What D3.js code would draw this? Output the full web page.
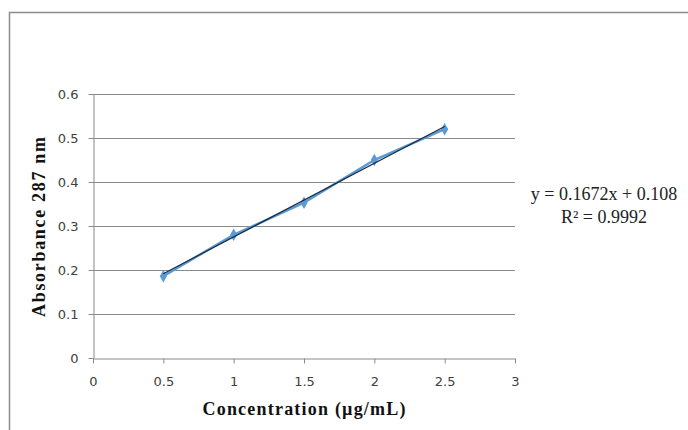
<!DOCTYPE html>
<html>
<head>
<meta charset="utf-8">
<script src="https://cdn.jsdelivr.net/npm/d3@7"></script>
<style>
  body { margin: 0; background: #fff; }
  svg { display: block; }
</style>
</head>
<body>
<div id="chart"></div>
<script>
// calibration data
const concentration = [0.5, 1, 1.5, 2, 2.5];
const absorbance = [0.186, 0.28, 0.353, 0.45, 0.52];
const xTicks = [0, 0.5, 1, 1.5, 2, 2.5, 3];
const yTicks = [0, 0.1, 0.2, 0.3, 0.4, 0.5, 0.6];
const slope = 0.1672;
const intercept = 0.108;
const equationLines = ["y = 0.1672x + 0.108", "R² = 0.9992"];

const width = 688, height = 430;
const margin = { top: 94, right: 173, bottom: 72, left: 93 };
const serif = "'Liberation Serif', 'Times New Roman', serif";

const svg = d3.select("#chart").append("svg")
  .attr("width", width)
  .attr("height", height);

// outer frame (only top and left edges show in the crop)
svg.append("path")
  .attr("d", `M9.5,${height}V12.5H${width}`)
  .attr("fill", "none")
  .attr("stroke", "#8c8c8c")
  .attr("stroke-width", 1.5);

const x = d3.scaleLinear().domain([0, 3]).range([margin.left, width - margin.right]);
const y = d3.scaleLinear().domain([0, 0.6]).range([height - margin.bottom, margin.top]);

// gridlines
svg.append("g")
  .selectAll("line")
  .data(yTicks.slice(1))
  .join("line")
  .attr("x1", x(0)).attr("x2", x(3))
  .attr("y1", d => Math.round(y(d)) + 0.5)
  .attr("y2", d => Math.round(y(d)) + 0.5)
  .attr("stroke", "#8a8a8a")
  .attr("stroke-width", 1);

// axes
const xAxis = svg.append("g")
  .attr("transform", `translate(0,${Math.round(y(0)) + 0.5})`)
  .call(d3.axisBottom(x).tickValues(xTicks).tickFormat(d3.format("")).tickSize(5).tickSizeOuter(0));

const yAxis = svg.append("g")
  .attr("transform", `translate(${Math.round(x(0)) + 0.5},0)`)
  .call(d3.axisLeft(y).tickValues(yTicks).tickFormat(d3.format("")).tickSize(5).tickSizeOuter(0));

[xAxis, yAxis].forEach(g => {
  g.select(".domain").attr("stroke", "#8a8a8a");
  g.selectAll(".tick line").attr("stroke", "#8a8a8a");
  g.selectAll(".tick text")
    .attr("fill", "#404040")
    .style("font-family", "'DejaVu Sans', Verdana, sans-serif")
    .style("font-size", "13px");
});
xAxis.selectAll(".tick text").attr("y", 23).attr("dy", "0.32em");
yAxis.selectAll(".tick text").attr("x", -15);

// data series
const pts = concentration.map((c, i) => [c, absorbance[i]]);
svg.append("path")
  .datum(pts)
  .attr("d", d3.line().x(d => x(d[0])).y(d => y(d[1])))
  .attr("fill", "none")
  .attr("stroke", "#5b9bd5")
  .attr("stroke-width", 2.5);

svg.append("g")
  .selectAll("path")
  .data(pts)
  .join("path")
  .attr("transform", d => `translate(${x(d[0])},${y(d[1])})`)
  .attr("d", d3.symbol(d3.symbolDiamond, 45))
  .attr("fill", "#5b9bd5");

// linear trendline
const xMin = d3.min(concentration), xMax = d3.max(concentration);
svg.append("line")
  .attr("x1", x(xMin)).attr("y1", y(slope * xMin + intercept))
  .attr("x2", x(xMax)).attr("y2", y(slope * xMax + intercept))
  .attr("stroke", "#1a2b40")
  .attr("stroke-width", 1.2);

// equation label
svg.append("text")
  .attr("x", 604)
  .attr("y", 200)
  .attr("text-anchor", "middle")
  .style("font-family", serif)
  .style("font-size", "18px")
  .attr("fill", "#222")
  .selectAll("tspan")
  .data(equationLines)
  .join("tspan")
  .attr("x", 604)
  .attr("dy", (d, i) => i === 0 ? 0 : 23)
  .text(d => d);

// axis titles
svg.append("text")
  .attr("transform", `translate(45,227) rotate(-90)`)
  .attr("text-anchor", "middle")
  .attr("textLength", 180)
  .attr("lengthAdjust", "spacing")
  .style("font-family", serif)
  .style("font-size", "18px")
  .style("font-weight", "bold")
  .attr("fill", "#111")
  .text("Absorbance  287 nm");

svg.append("text")
  .attr("x", 304)
  .attr("y", 415)
  .attr("text-anchor", "middle")
  .attr("textLength", 203)
  .attr("lengthAdjust", "spacing")
  .style("font-family", serif)
  .style("font-size", "18px")
  .style("font-weight", "bold")
  .attr("fill", "#111")
  .text("Concentration  (µg/mL)");
</script>
</body>
</html>
